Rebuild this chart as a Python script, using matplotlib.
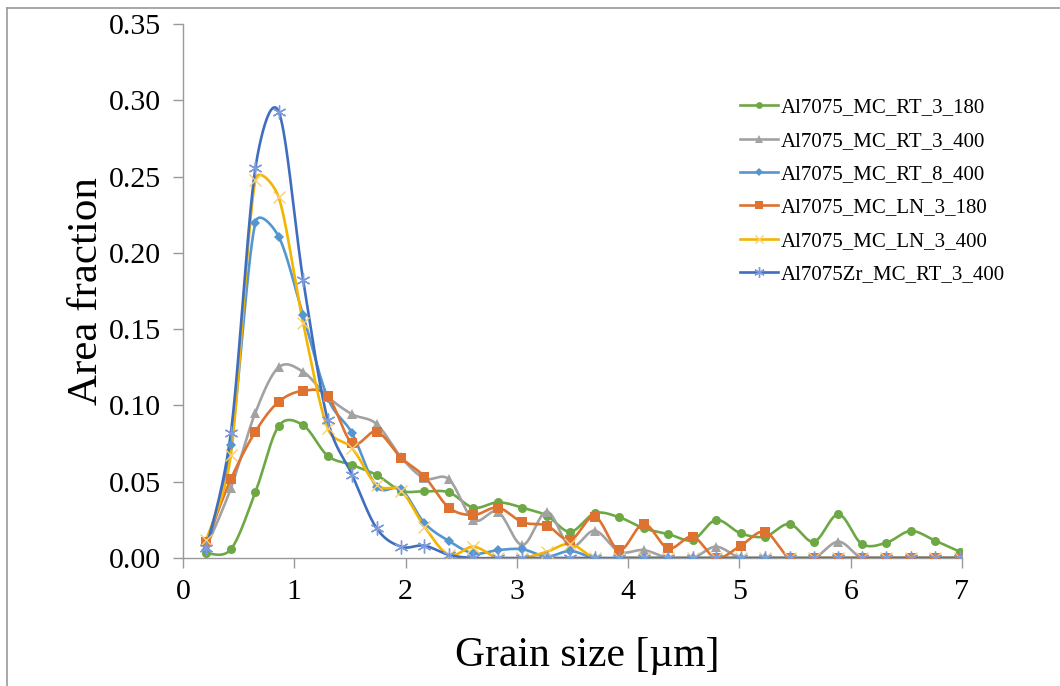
import numpy as np
import matplotlib
matplotlib.use("Agg")
import matplotlib.pyplot as plt
from matplotlib.lines import Line2D

# Grain size bin centres [µm]
grain_size = [0.21, 0.43, 0.65, 0.86, 1.08, 1.30, 1.52, 1.74, 1.96, 2.17,
              2.39, 2.61, 2.83, 3.05, 3.27, 3.48, 3.70, 3.92, 4.14, 4.36,
              4.58, 4.79, 5.01, 5.23, 5.45, 5.67, 5.89, 6.10, 6.32, 6.54,
              6.76, 6.98]

rt_3_180 = [0.003, 0.0057, 0.043, 0.0865, 0.087, 0.067, 0.061, 0.0544, 0.0441, 0.0437,
            0.043, 0.033, 0.0365, 0.033, 0.0277, 0.0172, 0.0293, 0.0267, 0.0195, 0.0157,
            0.0118, 0.0249, 0.0162, 0.014, 0.0223, 0.0107, 0.0286, 0.0092, 0.010, 0.0177,
            0.0113, 0.0041]
rt_3_400 = [0.007, 0.0457, 0.0952, 0.125, 0.122, 0.1057, 0.0942, 0.0878, 0.066, 0.0522,
            0.0516, 0.0249, 0.0303, 0.0085, 0.0303, 0.0074, 0.0179, 0.0041, 0.0052, 0.0,
            0.0, 0.0074, 0.0, 0.0, 0.0, 0.0, 0.0107, 0.0, 0.0, 0.0,
            0.0, 0.0]
rt_8_400 = [0.005, 0.074, 0.2197, 0.2106, 0.159, 0.105, 0.0817, 0.0467, 0.045, 0.0229,
            0.0111, 0.003, 0.0052, 0.0057, 0.001, 0.0046, 0.0, 0.0, 0.0, 0.0,
            0.0, 0.0, 0.0, 0.0, 0.0, 0.0, 0.0, 0.0, 0.0, 0.0,
            0.0, 0.0]
ln_3_180 = [0.0107, 0.0516, 0.0828, 0.1024, 0.1096, 0.1062, 0.0752, 0.0828, 0.0657, 0.0533,
            0.033, 0.0282, 0.033, 0.0234, 0.0212, 0.0118, 0.0271, 0.0052, 0.0223, 0.0063,
            0.014, 0.0, 0.008, 0.0172, 0.0, 0.0, 0.0, 0.0, 0.0, 0.0,
            0.0, 0.0]
ln_3_400 = [0.0118, 0.0675, 0.2477, 0.2364, 0.1538, 0.085, 0.0719, 0.0478, 0.044, 0.0205,
            0.002, 0.0074, 0.0, 0.0, 0.0041, 0.0092, 0.0, 0.0, 0.0, 0.0,
            0.0, 0.0, 0.0, 0.0, 0.0, 0.0, 0.0, 0.0, 0.0, 0.0,
            0.0, 0.0]
zr_rt_3_400 = [0.0063, 0.082, 0.2553, 0.2925, 0.182, 0.0904, 0.0544, 0.0195, 0.0074, 0.0081,
               0.002, 0.0, 0.0, 0.0, 0.0, 0.0, 0.0, 0.0, 0.0, 0.0,
               0.0, 0.0, 0.0, 0.0, 0.0, 0.0, 0.0, 0.0, 0.0, 0.0,
               0.0, 0.0]

series_labels = ["Al7075_MC_RT_3_180", "Al7075_MC_RT_3_400", "Al7075_MC_RT_8_400",
                 "Al7075_MC_LN_3_180", "Al7075_MC_LN_3_400", "Al7075Zr_MC_RT_3_400"]
y_ticks = [0.00, 0.05, 0.10, 0.15, 0.20, 0.25, 0.30, 0.35]
x_ticks = [0, 1, 2, 3, 4, 5, 6, 7]

X_MAX, Y_MAX = 7.0, 0.35
AX_W_PX, AX_H_PX = 779.0, 534.0


def smooth(x, y, n=40):
    """Bezier smoothing through every point, computed in screen space.

    Control points follow Catmull-Rom tangents, with each control arm capped
    at half the length of the segment it belongs to.
    """
    sx, sy = AX_W_PX / X_MAX, AX_H_PX / Y_MAX
    p = np.column_stack([np.asarray(x) * sx, np.asarray(y) * sy])
    m = len(p)
    t = np.linspace(0, 1, n)[:, None]
    out = []
    for i in range(m - 1):
        p1, p2 = p[i], p[i + 1]
        p0 = p[i - 1] if i > 0 else p1
        p3 = p[i + 2] if i + 2 < m else p2
        d12 = np.linalg.norm(p2 - p1)
        v1 = (p2 - p0) / 6.0
        v2 = (p3 - p1) / 6.0
        n1, n2 = np.linalg.norm(v1), np.linalg.norm(v2)
        if n1 > d12 / 2.0:
            v1 = v1 * (d12 / 2.0) / n1
        if n2 > d12 / 2.0:
            v2 = v2 * (d12 / 2.0) / n2
        b1 = p1 + v1
        b2 = p2 - v2
        seg = ((1 - t) ** 3) * p1 + 3 * ((1 - t) ** 2) * t * b1 + 3 * (1 - t) * t ** 2 * b2 + t ** 3 * p2
        out.append(seg if i == 0 else seg[1:])
    c = np.vstack(out)
    return c[:, 0] / sx, c[:, 1] / sy


plt.rcParams["font.family"] = ["Liberation Serif", "DejaVu Serif"]

fig = plt.figure(figsize=(10.6, 6.86), dpi=100)
ax = fig.add_axes([183 / 1060, 1 - 558 / 686, AX_W_PX / 1060, AX_H_PX / 686])

styles = [
    dict(data=rt_3_180, color="#6EA845", mcolor="#6EA845", marker="o", ms=6.5, mew=0),
    dict(data=rt_3_400, color="#A2A2A2", mcolor="#A2A2A2", marker="^", ms=7, mew=0),
    dict(data=rt_8_400, color="#5596CF", mcolor="#5596CF", marker="D", ms=5, mew=0),
    dict(data=ln_3_180, color="#DE7230", mcolor="#DE7230", marker="s", ms=7, mew=0),
    dict(data=ln_3_400, color="#F4B400", mcolor="#F8CF70", marker="x", ms=8, mew=1.0),
    dict(data=zr_rt_3_400, color="#3F6EC0", mcolor="#7D9BD9", marker=(6, 2, 0), ms=10, mew=1.0),
]

handles = []
for st, lab in zip(styles, series_labels):
    cx, cy = smooth(grain_size, st["data"])
    ax.plot(cx, cy, color=st["color"], lw=1.9, solid_capstyle="round", zorder=2)
    ax.plot(grain_size, st["data"], ls="none", marker=st["marker"], ms=st["ms"],
            mfc=st["mcolor"], mec=st["mcolor"], mew=st["mew"], zorder=3)
    handles.append(Line2D([0], [0], color=st["color"], lw=1.9, marker=st["marker"],
                          ms=st["ms"] * 0.75, mfc=st["mcolor"], mec=st["mcolor"],
                          mew=st["mew"], label=lab))

ax.set_xlim(0, X_MAX)
ax.set_ylim(0, Y_MAX)
ax.set_xticks(x_ticks)
ax.set_yticks(y_ticks)
ax.set_xticklabels([str(v) for v in x_ticks])
ax.set_yticklabels([f"{v:.2f}" for v in y_ticks])
ax.tick_params(axis="both", labelsize=21.5, colors="#999999", labelcolor="black",
               length=7, width=1.0, direction="out")
ax.tick_params(axis="y", pad=9)
ax.tick_params(axis="x", pad=8)
for side in ["top", "right"]:
    ax.spines[side].set_visible(False)
for side in ["left", "bottom"]:
    ax.spines[side].set_color("#999999")
    ax.spines[side].set_linewidth(1.0)

ax.set_xlabel("Grain size [µm]", fontsize=30)
ax.set_ylabel("Area fraction", fontsize=31)
ax.xaxis.set_label_coords((587 - 183) / AX_W_PX, -(656 - 558) / AX_H_PX)
ax.yaxis.set_label_coords(-(183 - 87) / AX_W_PX, 0.5)
ax.xaxis.label.set_va("center")
ax.yaxis.label.set_va("center")

leg = ax.legend(handles=handles, loc="upper left",
                bbox_to_anchor=((740 - 183) / AX_W_PX, (558 - 98) / AX_H_PX),
                frameon=False, fontsize=15, handlelength=1.8, handletextpad=0.15,
                labelspacing=0.66, borderaxespad=0, borderpad=0)

# Outer frame lines along the top and left edges of the figure
fig.add_artist(Line2D([7 / 1060, 1.0], [1 - 8 / 686, 1 - 8 / 686],
                      transform=fig.transFigure, color="#999999", lw=1.2))
fig.add_artist(Line2D([7 / 1060, 7 / 1060], [0.0, 1 - 8 / 686],
                      transform=fig.transFigure, color="#999999", lw=1.2))

fig.savefig("out.png", dpi=100, facecolor="white")
